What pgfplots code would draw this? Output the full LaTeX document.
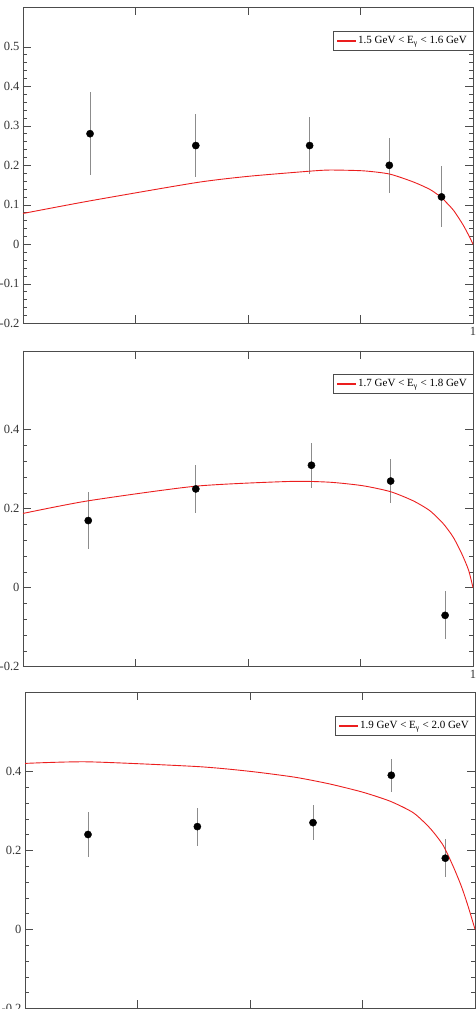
\documentclass[border=0pt]{standalone}
\usepackage{fontspec}
\setmainfont{Liberation Serif}
\usepackage{pgfplots}
\usepackage{pgfplotstable}
\pgfplotsset{compat=1.18}
\definecolor{curvered}{RGB}{235,30,30}

\pgfplotstableread{
x y e
0.149 0.28 0.105
0.384 0.25 0.08
0.637 0.25 0.073
0.814 0.20 0.07
0.930 0.12 0.077
}\dataA
\pgfplotstableread{
x y e
0.145 0.17 0.073
0.384 0.25 0.06
0.641 0.31 0.057
0.817 0.27 0.055
0.938 -0.07 0.061
}\dataB
\pgfplotstableread{
x y e
0.140 0.24 0.056
0.383 0.26 0.048
0.640 0.27 0.044
0.814 0.39 0.042
0.934 0.18 0.048
}\dataC

\pgfplotsset{
 panel/.style={
  scale only axis, width=450pt, height=316pt,
  xmin=0, xmax=1, ymin=-0.2, ymax=0.6,
  xtick={0,0.25,0.5,0.75,1}, xticklabels={,,,,1},
  minor y tick num=4,
  tick align=inside,
  major tick length=8pt, minor tick length=4pt,
  tick label style={font=\fontsize{12.5}{12.5}\selectfont, text=black!80},
  axis line style={black!70},
  every tick/.style={black!70},
  legend style={at={(1,0.925)}, anchor=north east, font=\fontsize{11}{11}\selectfont,
    draw=black!70, inner xsep=4pt, inner ysep=3pt, legend cell align=left},
  legend image code/.code={\fill[curvered] (0pt,-0.6pt) rectangle (18pt,0.6pt);},
 },
 pts/.style={only marks, mark=*, mark size=3.6pt, black, forget plot,
   error bars/.cd, y dir=both, y explicit, error mark=none,
   error bar style={black!45, line width=0.9pt}},
 curve/.style={curvered, line width=0.9pt, smooth, tension=0.4, no marks},
}

\begin{document}
\begin{tikzpicture}
\useasboundingbox (0,0) rectangle (476pt,1009pt);
\begin{axis}[panel, at={(23pt,685.7pt)}, anchor=south west,
  ytick={-0.2,-0.1,0,0.1,0.2,0.3,0.4,0.5},
  yticklabels={-0.2,-0.1,0,0.1,0.2,0.3,0.4,0.5}]
\addplot[pts] table[x=x, y=y, y error=e] {\dataA};
\addplot[curve] coordinates {(0,0.078) (0.149,0.11) (0.384,0.156) (0.5,0.172) (0.636,0.185) (0.682,0.188) (0.756,0.186) (0.814,0.178) (0.867,0.158) (0.904,0.139) (0.929,0.119) (0.956,0.087) (0.978,0.049) (0.993,0.017) (1,0)};
\addlegendentry{1.5 GeV < E\textsubscript{γ} < 1.6 GeV}
\end{axis}
\begin{axis}[panel, at={(23pt,342.3pt)}, anchor=south west,
  ytick={-0.2,0,0.2,0.4}, yticklabels={-0.2,0,0.2,0.4}]
\addplot[pts] table[x=x, y=y, y error=e] {\dataB};
\addplot[curve] coordinates {(0,0.188) (0.145,0.22) (0.384,0.257) (0.593,0.269) (0.682,0.267) (0.756,0.258) (0.817,0.243) (0.867,0.22) (0.904,0.195) (0.934,0.162) (0.956,0.128) (0.975,0.086) (0.99,0.045) (1,0)};
\addlegendentry{1.7 GeV < E\textsubscript{γ} < 1.8 GeV}
\end{axis}
\begin{axis}[panel, at={(25pt,0.7pt)}, anchor=south west,
  ytick={-0.2,0,0.2,0.4}, yticklabels={-0.2,0,0.2,0.4}]
\addplot[pts] table[x=x, y=y, y error=e] {\dataC};
\addplot[curve] coordinates {(0,0.42) (0.14,0.424) (0.383,0.412) (0.499,0.40) (0.60,0.385) (0.677,0.368) (0.751,0.347) (0.812,0.324) (0.863,0.295) (0.9,0.256) (0.929,0.213) (0.952,0.158) (0.97,0.108) (0.985,0.057) (1,0)};
\addlegendentry{1.9 GeV < E\textsubscript{γ} < 2.0 GeV}
\end{axis}
\end{tikzpicture}
\end{document}
